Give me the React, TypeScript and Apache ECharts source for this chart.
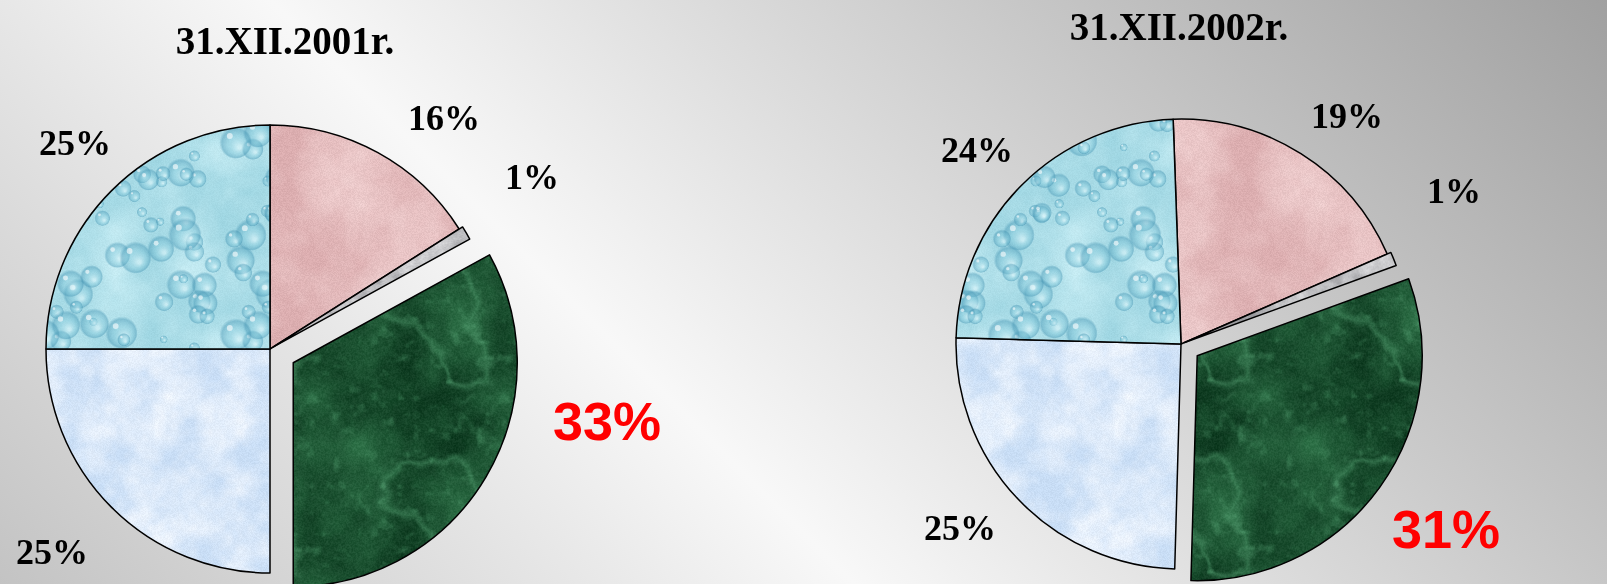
import React, { useEffect, useRef } from "react";
import * as echarts from "echarts";

// ---- data ----
const categories = ["Segment 1", "Segment 2", "Segment 3", "Segment 4", "Segment 5"];
const values2001 = [16, 1, 33, 25, 25];
const values2002 = [19, 1, 31, 25, 24];
const titles = ["31.XII.2001r.", "31.XII.2002r."];
const highlightIndex = 2; // exploded, red-labelled slice
const smallIndex = 1; // small slightly detached slice

// ---- styling / layout ----
const sliceColors = ["#e9c4c5", "#c4c5c8", "#1f5535", "#dae8fa", "#a9dde8"];
const textureKinds = ["pink", "gray", "green", "frost", "drops"];
const W = 1607;
const H = 584;
const pies = [
  {
    values: values2001,
    title: titles[0],
    center: [270, 349],
    radius: 224,
    startAngle: 90,
    offset: 27,
    titlePos: [285, 40],
    labelPos: [
      [444, 118],
      [532, 177],
      [607, 421],
      [52, 552],
      [75, 143],
    ],
  },
  {
    values: values2002,
    title: titles[1],
    center: [1181, 344],
    radius: 225,
    startAngle: 92,
    offset: 20,
    titlePos: [1179, 26],
    labelPos: [
      [1347, 116],
      [1454, 191],
      [1446, 529],
      [960, 528],
      [977, 150],
    ],
  },
];

const serif = "'Liberation Serif', 'Times New Roman', serif";
const sans = "'Liberation Sans', Arial, sans-serif";
const clear = "rgba(0,0,0,0)";

// ---- decorative textures (deterministic, tileable) ----
const T = 192;
function hash(i: number, j: number, s: number) {
  const x = Math.sin(i * 127.1 + j * 311.7 + s * 74.7) * 43758.5453;
  return x - Math.floor(x);
}
function vnoise(x: number, y: number, period: number, seed: number) {
  const i0 = Math.floor(x);
  const j0 = Math.floor(y);
  const fx = x - i0;
  const fy = y - j0;
  const sx = fx * fx * (3 - 2 * fx);
  const sy = fy * fy * (3 - 2 * fy);
  const w = (a: number) => ((a % period) + period) % period;
  const a = hash(w(i0), w(j0), seed);
  const b = hash(w(i0 + 1), w(j0), seed);
  const c = hash(w(i0), w(j0 + 1), seed);
  const d = hash(w(i0 + 1), w(j0 + 1), seed);
  return a + (b - a) * sx + (c - a) * sy + (a - b - c + d) * sx * sy;
}
function fbm(u: number, v: number, base: number, seed: number, oct = 4) {
  let sum = 0;
  let amp = 0.5;
  let tot = 0;
  for (let o = 0; o < oct; o++) {
    const f = base * Math.pow(2, o);
    sum += amp * vnoise((u / T) * f, (v / T) * f, f, seed + o);
    tot += amp;
    amp *= 0.5;
  }
  return sum / tot;
}
function hex(c: string) {
  return [parseInt(c.slice(1, 3), 16), parseInt(c.slice(3, 5), 16), parseInt(c.slice(5, 7), 16)];
}
function mix(a: number[], b: number[], t: number) {
  const k = Math.max(0, Math.min(1, t));
  return [a[0] + (b[0] - a[0]) * k, a[1] + (b[1] - a[1]) * k, a[2] + (b[2] - a[2]) * k];
}
function makeTexture(kind: string): any {
  if (typeof document === "undefined") return null;
  const cv = document.createElement("canvas");
  cv.width = T;
  cv.height = T;
  const ctx = cv.getContext("2d");
  if (!ctx) return null;
  const img = ctx.createImageData(T, T);
  for (let v = 0; v < T; v++) {
    for (let u = 0; u < T; u++) {
      const g = hash(u, v, 9) - 0.5;
      let col: number[];
      if (kind === "pink") {
        const n = fbm(u, v, 4, 1);
        col = mix(hex("#dcaeb0"), hex("#f4d8d8"), (n - 0.25) * 1.6);
        col = col.map((x) => x + g * 14);
      } else if (kind === "frost") {
        const n = fbm(u, v, 8, 2);
        col = mix(hex("#c8ddf5"), hex("#f2f7fe"), (n - 0.25) * 1.6);
        col = col.map((x) => x + g * 12);
      } else if (kind === "green") {
        const n = fbm(u, v, 4, 3);
        const r = Math.abs(fbm(u, v, 2, 7) * 2 - 1);
        const vein = Math.max(0, 1 - r * 12);
        const speck = fbm(u, v, 24, 11, 2);
        col = mix(hex("#0e3a20"), hex("#2d6f46"), (n - 0.2) * 1.7);
        col = mix(col, hex("#4f9a6c"), vein * 0.45 + Math.max(0, speck - 0.62) * 1.2);
        col = col.map((x) => x + g * 22);
      } else if (kind === "gray") {
        const n = fbm(u, v, 10, 4);
        col = mix(hex("#8e8e92"), hex("#e2e2e4"), (n - 0.2) * 1.6);
        col = col.map((x) => x + g * 18);
      } else {
        const n = fbm(u, v, 5, 5);
        col = mix(hex("#9fd6e2"), hex("#c8edf4"), (n - 0.2) * 1.5);
        col = col.map((x) => x + g * 8);
      }
      const p = (v * T + u) * 4;
      img.data[p] = Math.max(0, Math.min(255, col[0]));
      img.data[p + 1] = Math.max(0, Math.min(255, col[1]));
      img.data[p + 2] = Math.max(0, Math.min(255, col[2]));
      img.data[p + 3] = 255;
    }
  }
  ctx.putImageData(img, 0, 0);
  if (kind === "drops") {
    for (let k = 0; k < 55; k++) {
      const cx = hash(k, 1, 21) * T;
      const cy = hash(k, 2, 22) * T;
      const r = 4 + hash(k, 3, 23) * 13;
      for (let ox = -T; ox <= T; ox += T) {
        for (let oy = -T; oy <= T; oy += T) {
          const x = cx + ox;
          const y = cy + oy;
          if (x + r < 0 || x - r > T || y + r < 0 || y - r > T) continue;
          const gr = ctx.createRadialGradient(x + r * 0.25, y + r * 0.3, r * 0.1, x, y, r);
          gr.addColorStop(0, "rgba(225,248,252,0.55)");
          gr.addColorStop(0.5, "rgba(120,195,215,0.35)");
          gr.addColorStop(0.85, "rgba(70,150,180,0.45)");
          gr.addColorStop(1, "rgba(70,150,180,0)");
          ctx.fillStyle = gr;
          ctx.beginPath();
          ctx.arc(x, y, r, 0, Math.PI * 2);
          ctx.fill();
          ctx.fillStyle = "rgba(255,255,255,0.6)";
          ctx.beginPath();
          ctx.arc(x - r * 0.35, y - r * 0.4, Math.max(1, r * 0.18), 0, Math.PI * 2);
          ctx.fill();
        }
      }
    }
  }
  return { image: cv.toDataURL(), repeat: "repeat", imageWidth: T, imageHeight: T };
}

function buildOption() {
  const fills = textureKinds.map((k, i) => makeTexture(k) || sliceColors[i]);
  const series: any[] = [];
  pies.forEach((p) => {
    const common = {
      type: "pie",
      center: p.center,
      radius: p.radius,
      startAngle: p.startAngle,
      clockwise: true,
      avoidLabelOverlap: false,
      silent: true,
      emphasis: { disabled: true },
    };
    // base series: non-detached slices + all labels
    series.push({
      ...common,
      itemStyle: { borderColor: "#000", borderWidth: 1.5 },
      label: {
        show: true,
        position: "outside",
        formatter: "{c}%",
        color: "#000",
        fontFamily: serif,
        fontWeight: "bold",
        fontSize: 36,
      },
      labelLine: { show: false },
      labelLayout: (params: any) => {
        const pos = p.labelPos[params.dataIndex];
        return { x: pos[0], y: pos[1], align: "center", verticalAlign: "middle" };
      },
      data: p.values.map((v, i) => {
        const item: any = {
          name: categories[i],
          value: v,
          itemStyle: { color: fills[i] },
        };
        if (i === smallIndex || i === highlightIndex) {
          item.itemStyle = { color: clear, borderWidth: 0 };
        }
        if (i === highlightIndex) {
          item.label = { color: "#ff0000", fontFamily: sans, fontSize: 54 };
        }
        return item;
      }),
    });
    // detached slices
    [
      { idx: highlightIndex, off: p.offset },
      { idx: smallIndex, off: 4 },
    ].forEach(({ idx, off }) => {
      series.push({
        ...common,
        selectedMode: "multiple",
        selectedOffset: off,
        label: { show: false },
        labelLine: { show: false },
        data: p.values.map((v, i) =>
          i === idx
            ? {
                name: categories[i],
                value: v,
                selected: true,
                itemStyle: { color: fills[i], borderColor: "#000", borderWidth: 1.5 },
              }
            : { name: categories[i], value: v, itemStyle: { color: clear, borderWidth: 0 } }
        ),
      });
    });
  });

  return {
    animation: false,
    title: pies.map((p) => ({
      text: p.title,
      left: p.titlePos[0],
      top: p.titlePos[1] - 21,
      textAlign: "center",
      padding: 0,
      textStyle: {
        fontFamily: serif,
        fontWeight: "bold",
        fontSize: 39,
        lineHeight: 42,
        color: "#000",
      },
    })),
    graphic: [
      {
        type: "rect",
        z: -10,
        silent: true,
        shape: { x: 0, y: 0, width: W, height: H },
        style: {
          fill: new echarts.graphic.LinearGradient(
            0,
            584,
            1095.5,
            -511.5,
            [
              { offset: 0, color: "#c3c3c3" },
              { offset: 0.39, color: "#f8f8f8" },
              { offset: 1, color: "#a0a0a0" },
            ],
            true
          ),
        },
      },
    ],
    series,
  };
}

export default function App() {
  const ref = useRef<HTMLDivElement>(null);
  useEffect(() => {
    if (!ref.current) return;
    const chart = echarts.init(ref.current, undefined, { renderer: "svg" });
    chart.setOption(buildOption() as any);
    return () => chart.dispose();
  }, []);
  return (
    <div
      ref={ref}
      style={{ position: "fixed", left: 0, top: 0, width: W, height: H }}
    />
  );
}
